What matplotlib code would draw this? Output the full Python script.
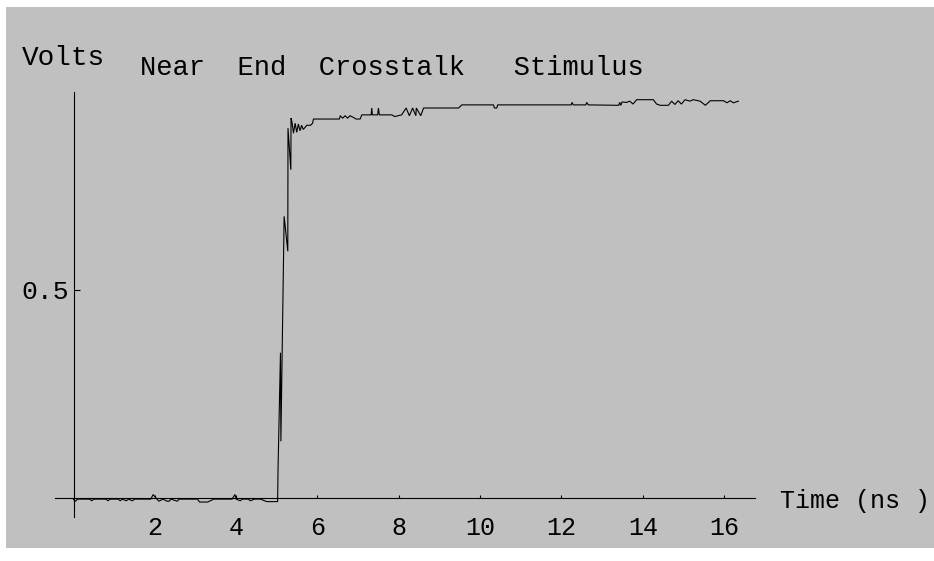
import matplotlib
matplotlib.use("Agg")
import matplotlib.pyplot as plt
from matplotlib.patches import Rectangle

# ---- data ----
time_ns = [
    0.00, 0.05, 0.10, 0.40, 0.45, 0.50, 0.80, 0.85, 0.90, 1.10,
    1.15, 1.20, 1.30, 1.35, 1.45, 1.50, 1.90, 1.96, 2.05, 2.10,
    2.20, 2.30, 2.35, 2.40, 2.55, 2.60, 3.05, 3.10, 3.30, 3.45,
    3.90, 3.97, 4.00, 4.10, 4.15, 4.30, 4.35, 4.45, 4.60, 4.75,
    5.02,
    5.03, 5.09, 5.10, 5.18, 5.27, 5.275, 5.345, 5.35, 5.37, 5.41,
    5.45, 5.49, 5.53, 5.57, 5.61, 5.65, 5.74, 5.83, 5.88, 5.90,
    6.54, 6.56, 6.62, 6.68, 6.74, 6.80, 6.88, 6.95, 7.05, 7.09,
    7.32, 7.335, 7.35, 7.48, 7.50, 7.52, 7.83, 7.90, 8.07, 8.18,
    8.26, 8.34, 8.42, 8.43, 8.54, 8.61, 9.47, 9.55, 10.33, 10.35,
    10.41, 10.43, 12.24, 12.26, 12.29, 12.60, 12.62, 12.66, 13.41, 13.43,
    13.46, 13.49, 13.60, 13.68, 13.76, 13.85, 14.26, 14.34, 14.43, 14.63,
    14.71, 14.79, 14.87, 14.95, 15.04, 15.16, 15.24, 15.41, 15.54, 15.66,
    15.99, 16.07, 16.15, 16.23, 16.35,
]
volts = [
    -0.004, -0.008, -0.003, -0.003, -0.007, -0.003, -0.003, -0.007, -0.003, -0.003,
    -0.007, -0.003, -0.007, -0.003, -0.007, -0.003, -0.003, 0.008, -0.003, -0.008,
    -0.003, -0.008, -0.008, -0.003, -0.008, -0.003, -0.003, -0.010, -0.010, -0.003,
    -0.003, 0.008, -0.003, -0.007, -0.003, -0.003, -0.007, -0.003, -0.003, -0.009,
    -0.009,
    0.068, 0.349, 0.136, 0.677, 0.593, 0.889, 0.789, 0.913, 0.905, 0.877,
    0.901, 0.879, 0.899, 0.883, 0.896, 0.886, 0.896, 0.896, 0.901, 0.911,
    0.911, 0.919, 0.913, 0.919, 0.913, 0.919, 0.915, 0.911, 0.911, 0.921,
    0.921, 0.9375, 0.921, 0.921, 0.9375, 0.921, 0.921, 0.917, 0.921, 0.9375,
    0.919, 0.9375, 0.919, 0.9375, 0.919, 0.9375, 0.9375, 0.945, 0.945, 0.9375,
    0.9375, 0.945, 0.945, 0.951, 0.945, 0.945, 0.951, 0.945, 0.944, 0.951,
    0.944, 0.952, 0.951, 0.954, 0.947, 0.9575, 0.9575, 0.947, 0.944, 0.944,
    0.954, 0.946, 0.955, 0.947, 0.9575, 0.954, 0.9575, 0.954, 0.944, 0.955,
    0.955, 0.950, 0.955, 0.950, 0.954,
]
x_ticks = [2, 4, 6, 8, 10, 12, 14, 16]
x_tick_labels = ["2", "4", "6", "8", "10", "12", "14", "16"]
y_ticks = [0.5]
y_tick_labels = ["0.5"]
title_text = "Near  End  Crosstalk   Stimulus"
x_label = "Time (ns )"
y_label = "Volts"

# ---- figure ----
W, H = 934, 561
FONT = ["Liberation Mono", "DejaVu Sans Mono"]
fig = plt.figure(figsize=(W / 100, H / 100), dpi=100, facecolor="white")
fig.patches.append(Rectangle((6 / W, 1 - 548 / H), (W - 6) / W, (548 - 7) / H,
                             transform=fig.transFigure, facecolor="#c0c0c0",
                             edgecolor="none", zorder=-10))

ax = fig.add_axes([55 / W, 1 - 517 / H, 700 / W, 425 / H])
ax.set_zorder(1)
ax.set_facecolor("none")
ax.set_xlim(-0.455, 16.76)
ax.set_ylim(-0.046, 0.976)

ax.plot(time_ns, volts, color="black", linewidth=0.8, solid_joinstyle="miter")

for side in ("top", "right"):
    ax.spines[side].set_visible(False)
ax.spines["left"].set_position(("data", 0))
ax.spines["bottom"].set_position(("data", 0))
for side in ("left", "bottom"):
    ax.spines[side].set_linewidth(0.8)
    ax.spines[side].set_color("black")

ax.set_xticks(x_ticks)
ax.set_xticklabels(x_tick_labels, family=FONT, fontsize=18)
ax.set_yticks(y_ticks)
ax.set_yticklabels(y_tick_labels, family=FONT, fontsize=19)
ax.tick_params(axis="x", direction="in", length=2.5, width=0.8, pad=13, colors="black")
ax.tick_params(axis="y", direction="in", length=4.5, width=0.8, pad=3, colors="black")

fig.text(22 / W, 1 - 65 / H, y_label, family=FONT, fontsize=20,
         ha="left", va="baseline")
fig.text(140 / W, 1 - 75 / H, title_text, family=FONT, fontsize=19.5,
         ha="left", va="baseline")
fig.text(780 / W, 1 - 508 / H, x_label, family=FONT, fontsize=18,
         ha="left", va="baseline")

fig.savefig("out.png", dpi=100, facecolor="white")
